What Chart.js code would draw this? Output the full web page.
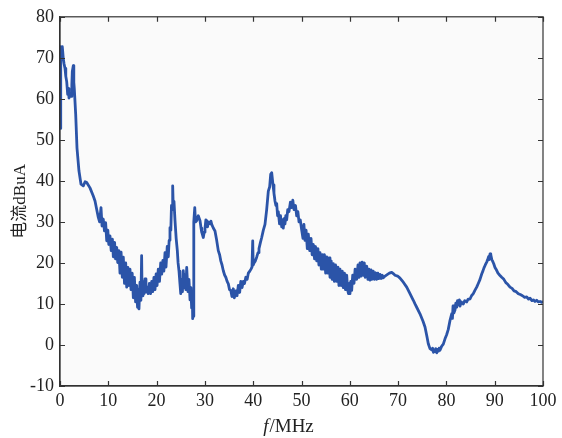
<!DOCTYPE html>
<html><head><meta charset="utf-8">
<script src="https://cdn.jsdelivr.net/npm/chart.js@4/dist/chart.umd.min.js"></script>
<style>html,body{margin:0;padding:0;background:#fff;}#wrap{width:562px;height:438px;}</style>
</head><body><div id="wrap"><canvas id="c" width="562" height="438"></canvas></div>
<script>
const freq = [0,0.1,0.2,0.35,0.48,0.68,0.85,1.04,1.2,1.39,1.59,1.75,1.86,2.07,2.28,2.45,2.55,2.75,2.86,2.96,3.25,3.52,3.93,4.35,4.82,5.2,5.53,6.21,6.89,7.25,7.6,7.93,8.2,8.49,8.7,8.96,9.2,9.45,9.67,9.9,10.1,10.35,10.6,10.85,11.04,11.3,11.5,11.74,11.95,12.2,12.42,12.65,12.9,13.11,13.35,13.6,13.81,14.05,14.25,14.49,14.7,14.95,15.18,15.4,15.65,15.88,16.05,16.2,16.35,16.56,16.75,16.9,17.0,17.18,17.4,17.6,17.8,18.05,18.28,18.5,18.75,18.99,19.2,19.45,19.67,19.9,20.1,20.35,20.6,20.85,21.06,21.3,21.5,21.74,21.95,22.2,22.42,22.6,22.77,22.95,23.08,23.2,23.33,23.45,23.6,23.81,24.05,24.29,24.45,24.64,24.84,25.0,25.15,25.35,25.53,25.7,25.88,26.05,26.23,26.4,26.5,26.7,26.92,27.1,27.25,27.4,27.47,27.6,27.68,27.72,27.9,28.05,28.3,28.63,28.99,29.2,29.34,29.67,29.85,30.02,30.2,30.37,30.55,30.7,31.06,31.25,31.41,31.74,32.09,32.44,32.77,33.05,33.29,33.55,33.81,34.1,34.33,34.6,34.85,35.1,35.36,35.6,35.88,36.1,36.4,36.65,36.92,37.2,37.43,37.7,37.95,38.2,38.47,38.75,38.99,39.3,39.54,39.75,39.9,40.0,40.17,40.45,40.72,41.0,41.2,41.5,41.76,42.1,42.44,42.79,43.13,43.4,43.62,43.83,44.1,44.3,44.51,44.7,
44.86,45.05,45.2,45.45,45.65,45.9,46.05,46.23,46.4,46.58,46.75,46.93,47.15,47.41,47.7,47.97,48.2,48.45,48.75,49.0,49.25,49.48,49.75,50.04,
50.3,50.5,50.72,50.95,51.2,51.41,51.7,51.97,52.2,52.44,
52.7,52.9,53.15,53.4,53.6,53.83,54.1,54.3,54.51,54.75,
55.0,55.22,55.45,55.7,55.9,56.15,56.35,56.59,56.8,57.05,
57.29,57.55,57.75,57.97,58.2,58.45,58.65,58.9,59.1,59.36,
59.55,59.73,59.9,60.04,60.2,60.39,60.6,60.87,61.1,61.42,
61.7,61.9,62.11,62.35,62.55,62.79,63.0,63.2,63.5,63.75,
63.95,64.18,64.4,64.6,64.86,65.1,65.35,65.57,65.8,66.0,
66.25,66.5,66.72,66.94,
67.3,67.81,68.2,68.68,69.0,69.36,69.9,70.39,71.08,71.78,72.46,73.15,73.5,73.85,74.53,75.16,75.57,75.98,76.25,76.6,76.96,77.15,77.33,77.5,77.64,77.8,77.99,78.2,78.36,78.5,78.67,79.03,79.36,79.71,80.05,80.39,80.75,81.1,81.25,81.37,81.55,81.78,81.95,82.13,82.3,82.51,82.7,82.82,83.1,83.5,83.8,84.2,84.5,84.89,85.2,85.57,85.9,86.27,86.6,86.96,87.31,87.55,87.78,88.05,88.34,88.55,88.72,88.85,89.03,89.15,89.23,89.4,89.54,89.8,90.06,90.4,90.68,91.05,91.45,91.9,92.3,92.7,93.17,93.6,94.0,94.45,94.89,95.3,95.76,96.2,96.63,97.0,97.31,97.7,98.0,98.35,98.69,99.0,99.38,99.7,100];
const current = [52.8,66,72.7,70.8,72.7,69.8,68.5,67.4,65.5,64.2,61.1,62.5,60.2,61.4,60.6,63.5,66.7,68.1,64,62.5,56.2,48.0,42.4,39.2,38.8,39.8,39.6,38.3,36.3,35.1,33,31.1,30,33.5,29,30.7,27.8,29.8,25.4,28,24.5,26.6,23,25.8,21.5,25,21,23.8,20.1,23,17.5,22.6,16.5,21.4,15,20,14.1,18.9,14.5,18.5,13.5,17.5,11.5,16.5,10.5,14.5,9.2,13.5,8.8,15.3,10.9,21.8,12,15.5,12.5,16.1,12.9,14.1,12.5,15,12.5,15.5,13,16.5,13.5,17.3,14.5,18.5,15.5,20,17.3,20.6,18,22.5,19,24,21.5,25.5,28.6,28,34,33,38.8,33.5,35,30.3,26,23,20,18,14.9,12.5,16,13,18.1,14,17,13.5,18.9,15,13,16,11,14,9,12,6.4,8,7,30,33.5,30,30.3,31.5,30.3,28.5,27.5,26.2,27.5,28.5,30.5,30.3,28.8,30,29.5,30.2,29.4,28.5,27.8,25.5,23,22,20.5,19.5,18.1,17,16.5,15.5,14.9,13.5,13.3,11.8,13.7,11.5,13.2,12,14.5,12.8,15.5,14,15.5,15,16.5,16,17.5,18,18.5,19,25.4,19.5,20,20.5,21.4,22.5,23.5,25,26.2,28,29.4,33,37.5,38.5,41.6,42,39,37,35.1,34,
34.5,31.5,32.5,29.5,31.5,28.8,30.5,28.5,30.8,29.5,31.5,30.5,33,32.5,34.8,33.5,35.3,33,34,31.5,32.5,30,30.5,28,
26,29.4,25.5,28,23.5,27,23,26,22,24.5,
21,24,20.5,23.5,19.5,22.5,18.5,22,18.5,22,
17.5,21.5,17.5,21.2,16.5,20.5,16,19.8,15.5,19.5,
15.5,19,14.5,18.5,14.5,18,14,17.5,13.5,17,
13.5,12.5,15,12.5,15.5,13.3,17,15,18.5,16,
19.5,16.5,20,16.8,20.2,17,20,16.5,19.2,16,
18.5,15.8,18.3,16,18,16,17.6,16,17.5,16.2,
17.2,16.2,17,16.4,
16.8,17.2,17.5,17.7,17.4,17,16.8,16.3,15.3,14.1,12.5,10.9,10,9.2,7.6,5.8,4.4,2,0.3,-0.9,-1.2,-0.8,-1.8,-1.2,-1.6,-0.9,-1.9,-1.1,-1.5,-0.8,-1.3,-0.3,0.2,1.5,2.5,3.8,6,7.6,6.5,9.5,7.8,8.5,10.2,9.2,10.8,9.8,11,9.5,10.5,10,10.8,10.5,11.2,11.2,12,12.5,13.3,14.1,15,16,17.3,18,18.8,19.5,20.2,20.8,21.5,20.8,22.2,21,22,20.8,20.5,19.8,18.9,18.2,17.5,17,16.5,16,15.2,14.8,14.1,13.8,13.2,13,12.5,12.3,12,11.6,11.7,11.2,11.4,10.8,11,10.6,10.9,10.5,10.6,10.4,10.6];
const xTicks = [0,10,20,30,40,50,60,70,80,90,100];
const yTicks = [-10,0,10,20,30,40,50,60,70,80];
const yTitle = '电流dBuA';
const xTitleItalic = 'f';
const xTitleRest = '/MHz';

const points = freq.map((f,i)=>({x:f,y:current[i]}));
const tickFont = {family:'"Liberation Serif", "DejaVu Serif", serif', size:18};

const frame = {
  id:'frame',
  beforeDraw(chart){
    const {ctx, chartArea:a} = chart;
    ctx.save(); ctx.fillStyle='#fafafa';
    ctx.fillRect(a.left,a.top,a.right-a.left,a.bottom-a.top);
    ctx.restore();
  },
  afterDraw(chart){
    const {ctx, chartArea:a, scales:{x,y}} = chart;
    ctx.save();
    ctx.strokeStyle='#333'; ctx.lineWidth=1.2;
    ctx.strokeRect(a.left,a.top,a.right-a.left,a.bottom-a.top);
    const L=5;
    ctx.beginPath();
    xTicks.forEach(v=>{const p=Math.round(x.getPixelForValue(v))+0.5;
      ctx.moveTo(p,a.bottom); ctx.lineTo(p,a.bottom-L);
      ctx.moveTo(p,a.top); ctx.lineTo(p,a.top+L);});
    yTicks.forEach(v=>{const p=Math.round(y.getPixelForValue(v))+0.5;
      ctx.moveTo(a.left,p); ctx.lineTo(a.left+L,p);
      ctx.moveTo(a.right,p); ctx.lineTo(a.right-L,p);});
    ctx.stroke();
    ctx.fillStyle='#222'; ctx.textBaseline='alphabetic'; ctx.textAlign='left';
    const fi='italic 19px "Liberation Serif"', fn='19px "Liberation Serif"';
    ctx.font=fi; const w1=ctx.measureText(xTitleItalic).width;
    ctx.font=fn; const w2=ctx.measureText(xTitleRest).width;
    const cx=288, by=432; const sx=cx-(w1+w2)/2;
    ctx.font=fi; ctx.fillText(xTitleItalic,sx,by);
    ctx.font=fn; ctx.fillText(xTitleRest,sx+w1+1,by);
    ctx.restore();
  }
};

new Chart(document.getElementById('c'),{
  type:'line',
  data:{datasets:[{data:points,borderColor:'#2b54a8',borderWidth:2.8,pointRadius:0,tension:0,fill:false,borderJoinStyle:'round'}]},
  options:{
    responsive:false, animation:false, devicePixelRatio:1,
    layout:{padding:{left:0,right:19,top:15,bottom:0}},
    plugins:{legend:{display:false},tooltip:{enabled:false}},
    scales:{
      x:{type:'linear',min:0,max:100,
        afterBuildTicks:s=>{s.ticks=xTicks.map(v=>({value:v}));},
        afterFit:s=>{s.height=52;},
        grid:{display:false,drawTicks:false,tickLength:0},border:{display:true,color:'#333',width:1.2},
        ticks:{font:tickFont,color:'#222',padding:4,maxRotation:0,autoSkip:false}},
      y:{type:'linear',min:-10,max:80,
        afterBuildTicks:s=>{s.ticks=yTicks.map(v=>({value:v}));},
        afterFit:s=>{s.width=60;},
        grid:{display:false,drawTicks:false,tickLength:0},border:{display:true,color:'#333',width:1.2},
        ticks:{font:tickFont,color:'#222',padding:6,autoSkip:false},
        title:{display:true,text:yTitle,color:'#222',padding:{top:10,bottom:0},
          font:{family:'"Liberation Serif", "Noto Sans CJK SC", serif',size:17}}}
    }
  },
  plugins:[frame]
});
</script></body></html>
